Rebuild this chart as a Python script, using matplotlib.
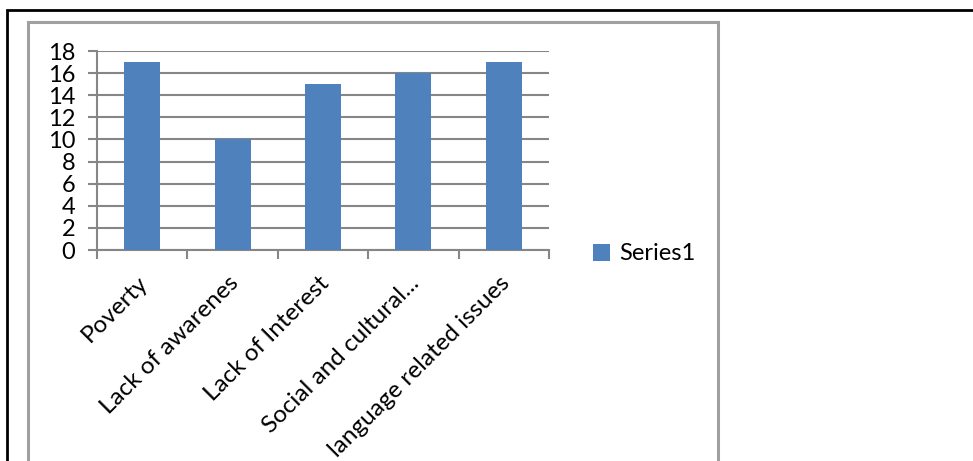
import matplotlib.pyplot as plt
from matplotlib.patches import Rectangle
from matplotlib.transforms import ScaledTranslation
import numpy as np

categories = ["Poverty", "Lack of awarenes", "Lack of Interest",
              "Social and cultural...", "language related issues"]
values = [17, 10, 15, 16, 17]
series_name = "Series1"
yticks = [0, 2, 4, 6, 8, 10, 12, 14, 16, 18]

plt.rcParams['font.family'] = ['Lato', 'DejaVu Sans']

W, H = 973, 461
fig = plt.figure(figsize=(W / 100, H / 100), dpi=100)

# outer black frame and grey chart frame (both run past the image edge)
fig.patches.append(Rectangle((7 / W, -0.1), 1.2, 1 - 10 / H + 0.1, transform=fig.transFigure,
                             fill=False, edgecolor='black', lw=2, zorder=0))
fig.patches.append(Rectangle((28 / W, -0.1), (718 - 28) / W, 1 - 22 / H + 0.1,
                             transform=fig.transFigure, fill=False,
                             edgecolor='#a0a0a0', lw=2.2, zorder=0))

ax = fig.add_axes([97 / W, 1 - 250 / H, (549 - 97) / W, (250 - 51) / H])
x = np.arange(len(categories))
ax.bar(x, values, width=0.4, color='#4f81bd', label=series_name, zorder=3)

ax.set_xlim(-0.5, len(categories) - 0.5)
ax.set_ylim(0, 18)
ax.set_yticks(yticks)
ax.set_yticklabels([str(v) for v in yticks], fontsize=17)
ax.yaxis.grid(True, color='#868686', lw=1.5, zorder=0)
ax.tick_params(axis='y', length=6.5, width=1.5, color='#868686', pad=9)

ax.set_xticks(x)
ax.set_xticklabels(categories, rotation=45, ha='right', rotation_mode='anchor', fontsize=17.5)
ax.set_xticks(np.arange(-0.5, len(categories)), minor=True)
ax.tick_params(axis='x', which='major', length=0, pad=16)
ax.tick_params(axis='x', which='minor', length=6.5, width=1.5, color='#868686')
shift = ScaledTranslation(-0.05, 0, fig.dpi_scale_trans)
for lab in ax.get_xticklabels():
    lab.set_transform(lab.get_transform() + shift)

for s in ['top', 'right']:
    ax.spines[s].set_visible(False)
for s in ['left', 'bottom']:
    ax.spines[s].set_color('#868686')
    ax.spines[s].set_linewidth(1.5)

ax.legend(loc='center left', bbox_to_anchor=(593 / W, 1 - 254 / H),
          bbox_transform=fig.transFigure, frameon=False, fontsize=17,
          handlelength=0.7, handleheight=0.7, handletextpad=0.4, borderpad=0,
          borderaxespad=0)

fig.savefig('out.png', dpi=100)
